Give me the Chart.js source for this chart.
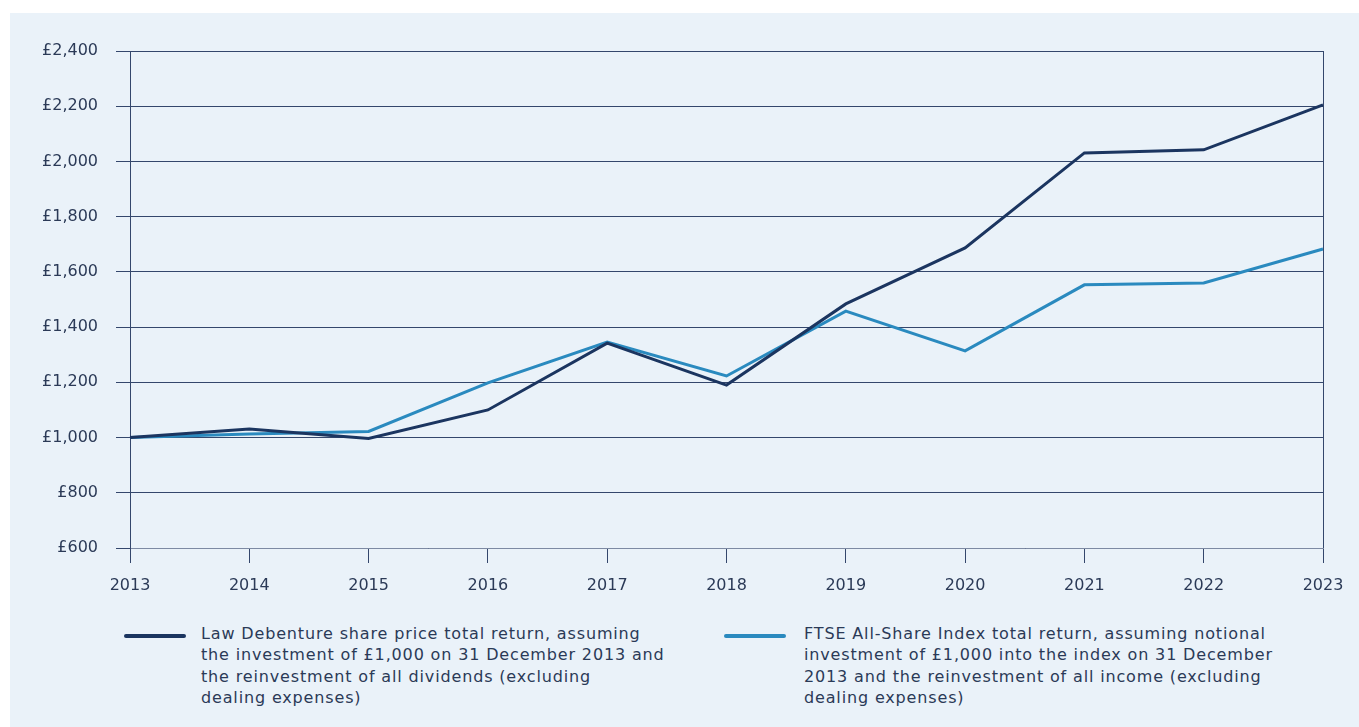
<!DOCTYPE html>
<html>
<head>
<meta charset="utf-8">
<script src="https://cdn.jsdelivr.net/npm/chart.js@4.4.1/dist/chart.umd.min.js"></script>
<style>
  html, body { margin: 0; padding: 0; background: #ffffff; }
  #panel { position: absolute; left: 10px; top: 13px; width: 1349px; height: 714px; background: #eaf2f9; }
  #chart { position: absolute; left: 0; top: 0; }
  .leg { position: absolute; font-family: "DejaVu Sans", sans-serif; font-size: 16px; letter-spacing: 0.85px; line-height: 21.3px; color: #2b3a57; white-space: nowrap; }
  .swatch { position: absolute; height: 4px; border-radius: 2px; }
</style>
</head>
<body>
<div id="panel">
  <canvas id="chart" width="1349" height="600"></canvas>
  <div class="swatch" style="left:114px; top:621px; width:62px; background:#1b3560;"></div>
  <div class="leg" style="left:191px; top:610px;">Law Debenture share price total return, assuming<br>the investment of £1,000 on 31 December 2013 and<br>the reinvestment of all dividends (excluding<br>dealing expenses)</div>
  <div class="swatch" style="left:714px; top:621px; width:62px; background:#2a8abf;"></div>
  <div class="leg" style="left:794px; top:610px;">FTSE All-Share Index total return, assuming notional<br>investment of £1,000 into the index on 31 December<br>2013 and the reinvestment of all income (excluding<br>dealing expenses)</div>
</div>
<script>
const years = ["2013","2014","2015","2016","2017","2018","2019","2020","2021","2022","2023"];
const lawDebenture = [1000, 1031, 997, 1100, 1342, 1190, 1484, 1687, 2031, 2042, 2205];
const ftseAllShare = [1000, 1013, 1022, 1198, 1346, 1223, 1458, 1314, 1553, 1560, 1683];
const seriesNames = ["Law Debenture share price total return", "FTSE All-Share Index total return"];

const textColor = "#2b3a57";
const gridColor = "#34476c";
const tickFont = { family: "DejaVu Sans", size: 16 };

const rightBorder = {
  id: "rightBorder",
  afterDraw(chart) {
    const a = chart.chartArea, ctx = chart.ctx;
    ctx.save();
    ctx.strokeStyle = gridColor;
    ctx.lineWidth = 1;
    ctx.beginPath();
    ctx.moveTo(Math.round(a.right) + 0.5, a.top);
    ctx.lineTo(Math.round(a.right) + 0.5, a.bottom);
    ctx.stroke();
    ctx.restore();
  }
};

new Chart(document.getElementById("chart"), {
  type: "line",
  data: {
    labels: years,
    datasets: [
      { label: seriesNames[0], data: lawDebenture, borderColor: "#1b3560", borderWidth: 3, pointRadius: 0, tension: 0, order: 1 },
      { label: seriesNames[1], data: ftseAllShare, borderColor: "#2a8abf", borderWidth: 3, pointRadius: 0, tension: 0, order: 2 }
    ]
  },
  options: {
    responsive: false,
    devicePixelRatio: 1,
    animation: false,
    layout: { padding: { top: 38, right: 36, bottom: 18, left: 0 } },
    plugins: { legend: { display: false }, tooltip: { enabled: false } },
    scales: {
      x: {
        offset: false,
        afterFit(axis) { axis.height = 47; },
        grid: { drawOnChartArea: false, drawTicks: true, tickLength: 15, color: gridColor, lineWidth: 1 },
        border: { display: true, color: "#7d8aa3", width: 1 },
        ticks: { color: textColor, padding: 13, maxRotation: 0, font: tickFont }
      },
      y: {
        min: 600, max: 2400,
        afterFit(axis) { axis.width = 120; },
        grid: { drawTicks: true, tickLength: 14, color: gridColor, lineWidth: 1 },
        border: { display: true, color: gridColor, width: 1 },
        ticks: {
          stepSize: 200, color: textColor, padding: 18,
          font: tickFont,
          callback: v => "£" + Number(v).toLocaleString("en-GB")
        }
      }
    }
  },
  plugins: [rightBorder]
});
</script>
</body>
</html>
